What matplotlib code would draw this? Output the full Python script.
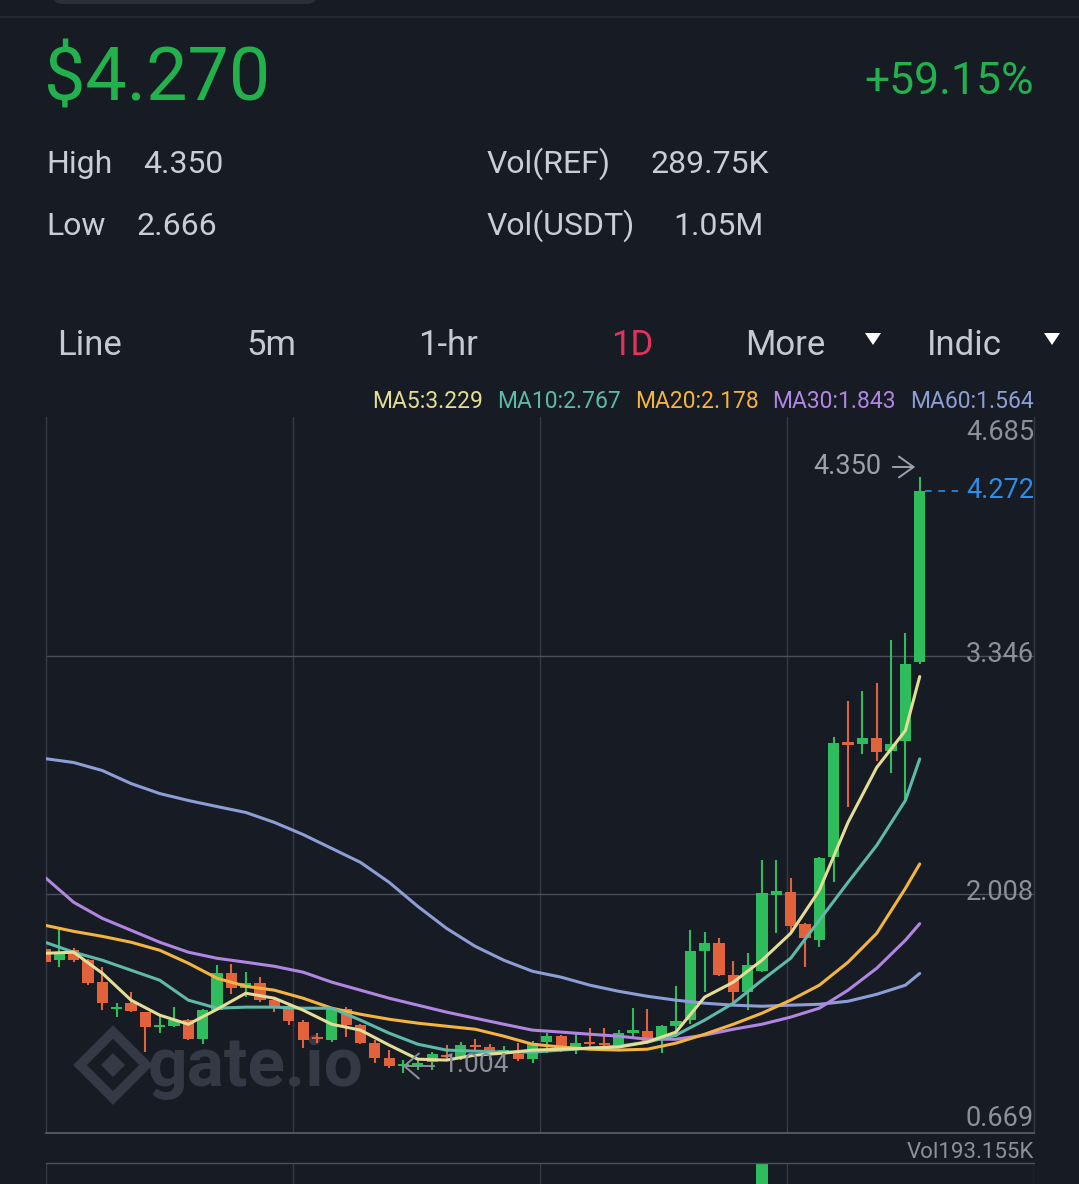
import numpy as np
import matplotlib.pyplot as plt
from matplotlib.patches import Polygon, FancyBboxPatch, FancyArrowPatch
from matplotlib.lines import Line2D

W, H = 1079, 1184
plt.rcParams['font.family'] = ['Roboto', 'DejaVu Sans']

# header values
last_price = '$4.270'
change = '+59.15%'
stats_left = [('High', '4.350'), ('Low', '2.666')]
stats_right = [('Vol(REF)', '289.75K'), ('Vol(USDT)', '1.05M')]
tabs = ['Line', '5m', '1-hr', '1D', 'More', 'Indic']

# daily candles, oldest first
opens = [1.699, 1.638, 1.694, 1.638, 1.515, 1.363, 1.397, 1.347, 1.263, 1.268,
         1.302, 1.195, 1.358, 1.565, 1.481, 1.509, 1.414, 1.380, 1.291, 1.207,
         1.190, 1.363, 1.274, 1.173, 1.089, 1.044, 1.044, 1.067, 1.106, 1.095,
         1.162, 1.151, 1.123, 1.111, 1.083, 1.179, 1.212, 1.134, 1.179, 1.173,
         1.151, 1.229, 1.240, 1.195, 1.268, 1.302, 1.688, 1.733, 1.554, 1.459,
         1.576, 2.002, 2.019, 1.839, 1.750, 2.215, 2.859, 2.853, 2.887, 2.814,
         2.870, 3.312]
highs = [1.716, 1.817, 1.705, 1.643, 1.599, 1.397, 1.459, 1.350, 1.324, 1.375,
         1.308, 1.363, 1.610, 1.615, 1.571, 1.543, 1.420, 1.397, 1.302, 1.229,
         1.375, 1.375, 1.279, 1.190, 1.134, 1.078, 1.089, 1.123, 1.162, 1.179,
         1.195, 1.167, 1.156, 1.173, 1.184, 1.229, 1.218, 1.229, 1.257, 1.257,
         1.246, 1.369, 1.363, 1.274, 1.492, 1.806, 1.795, 1.761, 1.632, 1.677,
         2.198, 2.198, 2.097, 1.845, 2.215, 2.892, 3.094, 3.150, 3.195, 3.435,
         3.475, 4.350]
lows = [1.610, 1.599, 1.627, 1.498, 1.358, 1.319, 1.347, 1.123, 1.229, 1.263,
        1.190, 1.167, 1.352, 1.447, 1.431, 1.403, 1.347, 1.274, 1.145, 1.173,
        1.179, 1.207, 1.167, 1.061, 1.033, 1.004, 1.022, 1.022, 1.078, 1.078,
        1.123, 1.078, 1.078, 1.072, 1.061, 1.117, 1.123, 1.111, 1.151, 1.145,
        1.145, 1.207, 1.179, 1.117, 1.207, 1.279, 1.459, 1.548, 1.403, 1.358,
        1.570, 1.789, 1.795, 1.599, 1.711, 2.075, 2.495, 2.797, 2.758, 2.691,
        2.534, 3.300]
closes = [1.627, 1.683, 1.638, 1.509, 1.397, 1.375, 1.352, 1.263, 1.274, 1.302,
          1.195, 1.358, 1.565, 1.481, 1.509, 1.414, 1.380, 1.296, 1.190, 1.195,
          1.363, 1.274, 1.173, 1.089, 1.044, 1.055, 1.061, 1.111, 1.095, 1.162,
          1.151, 1.117, 1.134, 1.083, 1.173, 1.212, 1.134, 1.173, 1.167, 1.162,
          1.229, 1.246, 1.184, 1.268, 1.296, 1.688, 1.733, 1.554, 1.459, 1.610,
          2.013, 2.024, 1.828, 1.761, 2.209, 2.859, 2.847, 2.887, 2.808, 2.853,
          3.301, 4.272]

# moving averages at every second candle
ma_idx = list(range(0, 61, 2)) + [61]
ma5 = [1.677, 1.683, 1.565, 1.414, 1.330, 1.279, 1.363, 1.453, 1.425, 1.358,
       1.279, 1.246, 1.162, 1.083, 1.078, 1.106, 1.117, 1.134, 1.139, 1.145,
       1.151, 1.179, 1.235, 1.431, 1.515, 1.638, 1.789, 2.030, 2.411, 2.719,
       2.926, 3.229]
ma10 = [1.739, 1.683, 1.638, 1.582, 1.526, 1.414, 1.369, 1.375, 1.375, 1.369,
        1.369, 1.302, 1.229, 1.167, 1.134, 1.128, 1.123, 1.123, 1.134, 1.145,
        1.156, 1.179, 1.218, 1.302, 1.397, 1.526, 1.649, 1.862, 2.075, 2.282,
        2.534, 2.767]
ma20 = [1.834, 1.800, 1.772, 1.739, 1.694, 1.621, 1.537, 1.492, 1.470, 1.425,
        1.369, 1.335, 1.307, 1.285, 1.268, 1.251, 1.212, 1.167, 1.151, 1.139,
        1.134, 1.139, 1.173, 1.223, 1.279, 1.341, 1.414, 1.498, 1.627, 1.789,
        2.041, 2.178]
ma30 = [2.103, 1.963, 1.873, 1.806, 1.739, 1.683, 1.649, 1.627, 1.604, 1.571,
        1.515, 1.470, 1.425, 1.386, 1.347, 1.313, 1.279, 1.246, 1.235, 1.223,
        1.212, 1.195, 1.195, 1.218, 1.251, 1.279, 1.319, 1.369, 1.470, 1.593,
        1.750, 1.843]
ma60 = [2.769, 2.747, 2.702, 2.629, 2.573, 2.534, 2.500, 2.467, 2.411, 2.343,
        2.265, 2.187, 2.075, 1.940, 1.817, 1.716, 1.638, 1.576, 1.543, 1.498,
        1.464, 1.436, 1.414, 1.397, 1.386, 1.380, 1.386, 1.391, 1.408, 1.447,
        1.498, 1.564]
ma_names = ['MA5', 'MA10', 'MA20', 'MA30', 'MA60']
ma_last = [3.229, 2.767, 2.178, 1.843, 1.564]

price_ticks = [4.685, 3.346, 2.008, 0.669]
high_mark = 4.350
low_mark = 1.004
vol_idx = [50]
vol_val = [193.155]

bg = '#171b24'
green = '#2fbc5d'
red = '#e2623c'
grid = '#363a45'
axis_grey = '#8b909b'
ma_colors = ['#e3dd95', '#5fb9a9', '#f3b53f', '#b186e3', '#8d9ed6']


def fx(x):
    return x / W


def fy(y):
    return 1 - y / H


fig = plt.figure(figsize=(W / 100, H / 100), dpi=100, facecolor=bg)

# top bar
fig.add_artist(FancyBboxPatch((fx(52), fy(4)), fx(266), 24 / H,
                              boxstyle='round,pad=0,rounding_size=0.01',
                              transform=fig.transFigure, color='#2a2f3a', lw=0))
fig.add_artist(Line2D([0, 1], [fy(17), fy(17)], color='#272b35', lw=1.2))

# header
fig.text(fx(44), fy(100), last_price, fontsize=53, color='#22b14c', va='baseline')
fig.text(fx(1034), fy(94), change, fontsize=32, color='#22b14c', va='baseline', ha='right')
label_grey = '#c9cdd6'
for (lab, val), yb, xv in zip(stats_left, [173, 235], [143, 136]):
    fig.text(fx(46), fy(yb), lab, fontsize=23, color=label_grey, va='baseline')
    fig.text(fx(xv), fy(yb), val, fontsize=23, color=label_grey, va='baseline')
for (lab, val), yb, xv in zip(stats_right, [173, 235], [650, 673]):
    fig.text(fx(487), fy(yb), lab, fontsize=23, color=label_grey, va='baseline')
    fig.text(fx(xv), fy(yb), val, fontsize=23, color=label_grey, va='baseline')

# tab bar
tab_x = [57, 246, 418, 611, 745, 927]
for name, tx in zip(tabs, tab_x):
    col = '#e2335f' if name == '1D' else '#c5c9d2'
    fig.text(fx(tx), fy(355), name, fontsize=25, color=col, va='baseline')
for cx in [873, 1052]:
    fig.add_artist(Polygon([(fx(cx - 8), fy(333)), (fx(cx + 8), fy(333)), (fx(cx), fy(345))],
                           closed=True, transform=fig.transFigure, color='white', lw=0))

# MA legend
leg_x = [372, 497, 635, 772, 910]
for name, val, col, lx in zip(ma_names, ma_last, ma_colors, leg_x):
    fig.text(fx(lx), fy(401), f'{name}:{val:.3f}', fontsize=16.5, color=col, va='center')

# watermark
wm = '#343a45'
fig.text(fx(148), fy(1086), 'gate.io', fontsize=50, fontweight='bold', color=wm,
         va='baseline', zorder=-1)
fig.add_artist(Polygon([(fx(113), fy(1032)), (fx(146), fy(1065)), (fx(113), fy(1098)), (fx(80), fy(1065))],
                       closed=True, fill=False, transform=fig.transFigure, ec=wm, lw=7, zorder=-1))
fig.add_artist(Polygon([(fx(113), fy(1053)), (fx(125), fy(1065)), (fx(113), fy(1077)), (fx(101), fy(1065))],
                       closed=True, transform=fig.transFigure, color=wm, lw=0, zorder=-1))

# price chart
x_left, x_right = 0.07, 68.97
ax = fig.add_axes([fx(46), fy(1133), fx(1034) - fx(46), (1133 - 417) / H])
ax.set_facecolor('none')
ax.set_xlim(x_left, x_right)
ax.set_ylim(price_ticks[-1], price_ticks[0])
ax.set_xticks([])
ax.set_yticks([])
for s in ['left', 'right']:
    ax.spines[s].set_color(grid)
    ax.spines[s].set_linewidth(1)
ax.spines['top'].set_visible(False)
ax.spines['bottom'].set_color('#5d616b')
ax.spines['bottom'].set_linewidth(1.2)
for f in [0.25, 0.5, 0.75]:
    ax.plot([f, f], [0, 1], transform=ax.transAxes, color=grid, lw=1, zorder=1)
for p in price_ticks[1:3]:
    ax.axhline(p, color='#4a4e59', lw=1, zorder=1)

o = np.array(opens)
c = np.array(closes)
xi = np.arange(len(o))
cols = [green if cc >= oo else red for oo, cc in zip(o, c)]
bottom = np.minimum(o, c)
height = np.maximum(np.abs(c - o), 0.014)
ax.vlines(xi, lows, highs, colors=cols, lw=1.5, zorder=3)
ax.bar(xi, height, bottom=bottom, width=0.78, color=cols, zorder=4)

for vals, col in zip([ma60, ma30, ma20, ma10, ma5], ma_colors[::-1]):
    ax.plot(ma_idx, vals, color=col, lw=2.2, zorder=5, solid_capstyle='round',
            solid_joinstyle='round')

# price labels
for p, yc in zip(price_ticks, [433, 654, 892, 1119]):
    fig.text(fx(1034), fy(yc), f'{p:.3f}', fontsize=19.5, color=axis_grey, ha='right', va='center')

blue = '#2d8de8'
ax.plot([61.4, 63.7], [closes[-1]] * 2, color=blue, lw=1.2, dashes=(4, 4), zorder=5)
fig.text(fx(1034), fy(490), f'{closes[-1]:.3f}', fontsize=19.5, color=blue, ha='right', va='center')

# high / low markers
fig.text(fx(881), fy(467), f'{high_mark:.3f}', fontsize=19.5, color='#9ca1ab', ha='right', va='center')
fig.add_artist(FancyArrowPatch((fx(890), fy(467)), (fx(918), fy(467)), transform=fig.transFigure,
                               arrowstyle='->,head_length=3.5,head_width=2.5', mutation_scale=3,
                               color='#9ca1ab', lw=1.4))
fig.text(fx(443), fy(1065), f'{low_mark:.3f}', fontsize=19, color=axis_grey, va='center')
fig.add_artist(FancyArrowPatch((fx(437), fy(1066)), (fx(400), fy(1066)), transform=fig.transFigure,
                               arrowstyle='->,head_length=3.5,head_width=3', mutation_scale=3,
                               color=axis_grey, lw=1.4))

# volume pane (only top of it is visible)
fig.add_artist(Line2D([fx(46), fx(1034)], [fy(1163), fy(1163)], color='#4a4e59', lw=1))
fig.text(fx(1034), fy(1152), f'Vol{vol_val[0]:.3f}K', fontsize=16, color=axis_grey, ha='right', va='center')
vax = fig.add_axes([fx(46), fy(1300), fx(1034) - fx(46), (1300 - 1163) / H])
vax.set_facecolor('none')
vax.set_xlim(x_left, x_right)
vax.set_ylim(0, vol_val[0])
vax.axis('off')
for f in [0, 0.25, 0.5, 0.75, 1]:
    vax.plot([f, f], [0, 1], transform=vax.transAxes, color=grid, lw=1, zorder=1)
vax.bar(vol_idx, vol_val, width=0.78, color=green, zorder=3)

fig.savefig('out.png', dpi=100, facecolor=bg)
